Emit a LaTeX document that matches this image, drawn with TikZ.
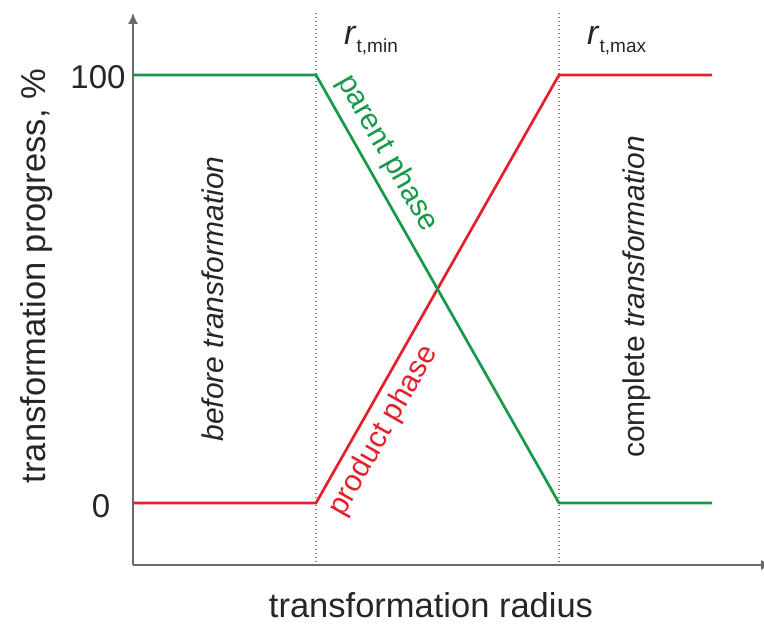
\documentclass[tikz,border=0pt]{standalone}
\usepackage{fontspec}
\setmainfont{Liberation Sans}
\usetikzlibrary{arrows.meta}
\definecolor{pgreen}{HTML}{17994A}
\definecolor{pred}{HTML}{E4212B}
\definecolor{axgray}{HTML}{6A6A6A}
\definecolor{txt}{HTML}{262626}
\begin{document}
\begin{tikzpicture}[x=1pt,y=-1pt,
  axis/.style={draw=axgray, line width=1.5pt},
  guide/.style={draw=axgray!85, line width=1.3pt, dash pattern=on 1.3pt off 2.7pt},
  curve/.style={line width=2.7pt, line join=miter},
  axlabel/.style={font=\fontsize{34.5}{40}\selectfont, text=txt, inner sep=0pt},
  ticklabel/.style={font=\fontsize{33}{38}\selectfont, text=txt, inner sep=0pt},
  region/.style={font=\fontsize{30}{36}\selectfont, text=txt, inner sep=0pt, rotate=90},
  phaselabel/.style={font=\fontsize{30}{36}\selectfont, sloped, inner sep=8pt},
  rlabel/.style={font=\fontsize{34}{40}\selectfont, text=txt, inner sep=0pt, anchor=base west}]
\useasboundingbox (0,0) rectangle (764,628);
% coordinates
\coordinate (O) at (133,565);
\coordinate (ytop) at (133,13);
\coordinate (xend) at (772,565);
\coordinate (d1t) at (316,13);
\coordinate (d1b) at (316,565);
\coordinate (d2t) at (559,13);
\coordinate (d2b) at (559,565);
\coordinate (g0) at (133,75);
\coordinate (g1) at (316,75);
\coordinate (g2) at (559,503);
\coordinate (g3) at (712,503);
\coordinate (r0) at (133,503);
\coordinate (r1) at (316,503);
\coordinate (r2) at (559,75);
\coordinate (r3) at (712,75);
% guides
\draw[guide] (d1t) -- (d1b);
\draw[guide] (d2t) -- (d2b);
% axes
\draw[axis, -{Latex[length=11pt,width=10pt]}] (O) -- (ytop);
\draw[axis, -{Latex[length=11pt,width=10pt]}] (O) -- (xend);
% curves
\draw[curve, pred] (r0) -- (r1) -- node[phaselabel, below, pos=0.195, text=pred] (prod) {product phase} (r2) -- (r3);
\draw[curve, pgreen] (g0) -- (g1) -- node[phaselabel, above, pos=0.21, text=pgreen] (par) {parent phase} (g2) -- (g3);
% tick labels
\node[ticklabel] (t100) at (98,77) {100};
\node[ticklabel] (t0) at (101,506) {0};
% axis labels
\node[axlabel, rotate=90] (ylab) at (37,276) {transformation progress, \%};
\node[axlabel] (xlab) at (431,605) {transformation radius};
% region labels
\node[region] (before) at (213,299) {\itshape before transformation};
\node[region] (complete) at (637,297) {complete \textit{transformation}};
% r labels
\node[rlabel] (rmin) at (344,45) {\textit{r}\raisebox{-8pt}{\fontsize{19}{20}\selectfont t,min}};
\node[rlabel] (rmax) at (587,45) {\textit{r}\raisebox{-8pt}{\fontsize{19}{20}\selectfont t,max}};
\end{tikzpicture}
\end{document}
